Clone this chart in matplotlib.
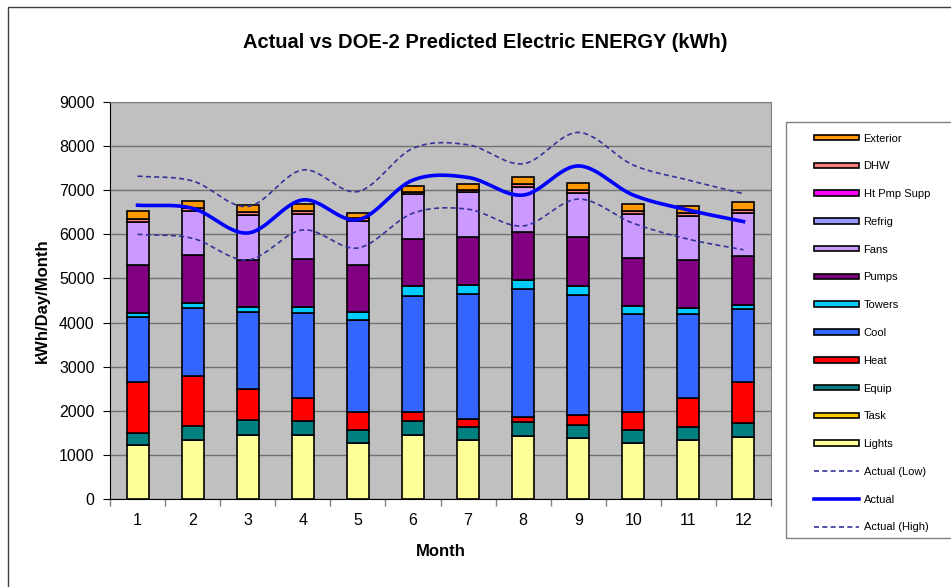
import numpy as np
import matplotlib
matplotlib.use('Agg')
import matplotlib.pyplot as plt
from matplotlib.patches import Rectangle, Patch
from matplotlib.lines import Line2D

plt.rcParams['font.family'] = ['Liberation Sans', 'DejaVu Sans']

months = [1, 2, 3, 4, 5, 6, 7, 8, 9, 10, 11, 12]

# Componentes de energia simulada (kWh/dia/mes)
lights   = [1220, 1340, 1460, 1440, 1280, 1440, 1340, 1420, 1380, 1280, 1330, 1400]
task     = [0, 0, 0, 0, 0, 0, 0, 0, 0, 0, 0, 0]
equip    = [280, 320, 330, 330, 280, 330, 300, 320, 300, 290, 300, 320]
heat     = [1150, 1130, 710, 520, 410, 200, 170, 130, 230, 400, 660, 940]
cool     = [1470, 1550, 1740, 1920, 2080, 2640, 2840, 2890, 2720, 2230, 1910, 1650]
towers   = [100, 110, 120, 140, 180, 210, 200, 210, 210, 180, 130, 90]
pumps    = [1090, 1080, 1060, 1090, 1080, 1080, 1100, 1090, 1100, 1080, 1090, 1100]
fans     = [980, 1000, 1010, 1010, 990, 1020, 1010, 1020, 1000, 1000, 1000, 990]
refrig   = [0, 0, 0, 0, 0, 0, 0, 0, 0, 0, 0, 0]
htpmp    = [0, 0, 0, 0, 0, 0, 0, 0, 0, 0, 0, 0]
dhw      = [60, 60, 70, 70, 60, 50, 50, 50, 60, 60, 70, 70]
exterior = [180, 170, 170, 160, 130, 130, 130, 180, 170, 160, 160, 170]

# Consumo medido
actual      = [6660, 6590, 6030, 6780, 6330, 7230, 7290, 6890, 7550, 6890, 6550, 6290]
actual_low  = [6000, 5910, 5420, 6100, 5690, 6480, 6570, 6190, 6800, 6250, 5890, 5650]
actual_high = [7320, 7210, 6630, 7460, 6970, 7950, 8030, 7600, 8310, 7570, 7230, 6920]

series = [
    ('Lights', lights, '#FFFF99'),
    ('Task', task, '#FFCC00'),
    ('Equip', equip, '#008080'),
    ('Heat', heat, '#FF0000'),
    ('Cool', cool, '#3366FF'),
    ('Towers', towers, '#00CCFF'),
    ('Pumps', pumps, '#800080'),
    ('Fans', fans, '#CC99FF'),
    ('Refrig', refrig, '#9999FF'),
    ('Ht Pmp Supp', htpmp, '#FF00FF'),
    ('DHW', dhw, '#FF8080'),
    ('Exterior', exterior, '#FF9900'),
]


def suaviza(x, y, n=30):
    # Curva Catmull-Rom passando pelos pontos (linha suavizada)
    x = np.asarray(x, float)
    y = np.asarray(y, float)
    px = np.concatenate([[2 * x[0] - x[1]], x, [2 * x[-1] - x[-2]]])
    py = np.concatenate([[2 * y[0] - y[1]], y, [2 * y[-1] - y[-2]]])
    xs, ys = [], []
    t = np.linspace(0, 1, n, endpoint=False)
    for i in range(1, len(px) - 2):
        for p, out in ((px, xs), (py, ys)):
            p0, p1, p2, p3 = p[i - 1], p[i], p[i + 1], p[i + 2]
            out.extend(0.5 * (2 * p1 + (-p0 + p2) * t
                              + (2 * p0 - 5 * p1 + 4 * p2 - p3) * t ** 2
                              + (-p0 + 3 * p1 - 3 * p2 + p3) * t ** 3))
    xs.append(x[-1])
    ys.append(y[-1])
    return xs, ys


fig = plt.figure(figsize=(9.51, 5.87), dpi=100)
ax = fig.add_axes([110 / 951, 88 / 587, 661 / 951, 397 / 587])
ax.set_facecolor('#C0C0C0')

base = np.zeros(len(months))
for nome, valores, cor in series:
    ax.bar(months, valores, bottom=base, width=0.4, color=cor,
           edgecolor='black', linewidth=1.2, zorder=3)
    base += np.array(valores)

for valores, estilo, lw in ((actual_low, '--', 1.2), (actual, '-', 2.6), (actual_high, '--', 1.2)):
    xs, ys = suaviza(months, valores)
    cor = '#0000FF' if estilo == '-' else '#333399'
    ax.plot(xs, ys, linestyle=estilo, color=cor, linewidth=lw, zorder=4,
            dashes=(3, 2) if estilo == '--' else (None, None))

ax.set_xlim(0.5, 12.5)
ax.set_ylim(0, 9000)
ax.set_yticks(range(0, 9001, 1000))
ax.set_xticks(months)
ax.set_xticks(np.arange(0.5, 13, 1), minor=True)
ax.tick_params(axis='x', which='major', length=0, pad=10, labelsize=11.5)
ax.tick_params(axis='x', which='minor', length=5, color='#808080', width=1)
ax.tick_params(axis='y', length=5, labelsize=11.5, pad=6)
ax.grid(axis='y', color='#707070', linewidth=1, zorder=0)
ax.set_axisbelow(True)
for lado in ('top', 'right'):
    ax.spines[lado].set_color('#808080')
ax.spines['left'].set_color('black')
ax.spines['bottom'].set_color('black')

fig.text(485 / 951, 1 - 42 / 587, 'Actual vs DOE-2 Predicted Electric ENERGY (kWh)',
         ha='center', va='center', fontsize=14.5, fontweight='bold')
fig.text(42 / 951, 1 - 301 / 587, 'kWh/Day/Month', rotation=90,
         ha='center', va='center', fontsize=12, fontweight='bold')
fig.text(441 / 951, 1 - 551 / 587, 'Month', ha='center', va='center',
         fontsize=12, fontweight='bold')

# Moldura do grafico e da legenda
fig.patches.append(Rectangle((8 / 951, -0.1), 1.2, 1 - 7 / 587 + 0.1,
                             transform=fig.transFigure, fill=False,
                             edgecolor='#404040', linewidth=1))
fig.patches.append(Rectangle((786 / 951, 1 - 538 / 587), 0.3, (538 - 122) / 587,
                             transform=fig.transFigure, fill=False,
                             edgecolor='#808080', linewidth=1))

handles = [Patch(facecolor=cor, edgecolor='black', linewidth=1.2, label=nome)
           for nome, valores, cor in reversed(series)]
handles += [
    Line2D([], [], color='#333399', linestyle='--', dashes=(3, 2), linewidth=1.2, label='Actual (Low)'),
    Line2D([], [], color='#0000FF', linewidth=2.6, label='Actual'),
    Line2D([], [], color='#333399', linestyle='--', dashes=(3, 2), linewidth=1.2, label='Actual (High)'),
]
fig.legend(handles=handles, loc='upper left', bbox_to_anchor=(808 / 951, 1 - 128 / 587),
           frameon=False, fontsize=8, handlelength=4.1, handleheight=0.4,
           handletextpad=0.4, labelspacing=1.6, borderpad=0)

fig.savefig('out.png', dpi=100)
